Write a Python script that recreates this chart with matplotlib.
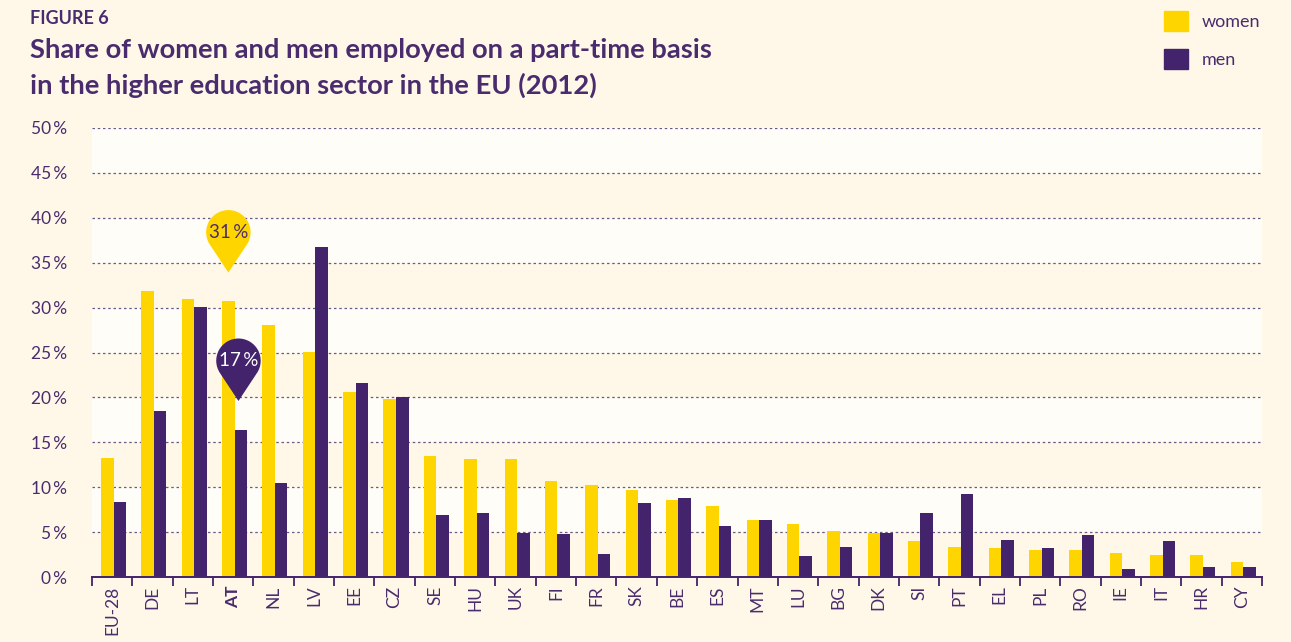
import numpy as np
import matplotlib
matplotlib.use('Agg')
import matplotlib.pyplot as plt
from matplotlib.path import Path
from matplotlib.patches import PathPatch, Patch
from matplotlib.transforms import Affine2D, ScaledTranslation

# data (share of part-time employed, %)
countries = ['EU-28', 'DE', 'LT', 'AT', 'NL', 'LV', 'EE', 'CZ', 'SE', 'HU', 'UK', 'FI', 'FR',
             'SK', 'BE', 'ES', 'MT', 'LU', 'BG', 'DK', 'SI', 'PT', 'EL', 'PL', 'RO', 'IE',
             'IT', 'HR', 'CY']
women = [13.3, 31.8, 31.0, 30.7, 28.1, 25.1, 20.6, 19.8, 13.5, 13.1, 13.1, 10.7, 10.3,
         9.7, 8.6, 7.9, 6.3, 5.9, 5.1, 4.9, 4.0, 3.3, 3.2, 3.0, 3.0, 2.7, 2.5, 2.5, 1.7]
men = [8.4, 18.5, 30.1, 16.4, 10.5, 36.7, 21.6, 20.1, 6.9, 7.1, 4.9, 4.8, 2.6,
       8.2, 8.8, 5.7, 6.4, 2.3, 3.3, 4.9, 7.1, 9.2, 4.1, 3.2, 4.7, 0.9, 4.0, 1.1, 1.1]
highlight = 'AT'
callouts = [('women', 31), ('men', 17)]  # rounded AT values shown in pins
yticks = list(range(0, 55, 5))

YELLOW = '#FFD500'
PURPLE = '#43236B'
TEXT = '#4A2C6E'
BG = '#FFF8E8'
BAND = '#FFFDF7'
FONT = 'Lato'

plt.rcParams['font.family'] = [FONT, 'DejaVu Sans']

W, H = 1291, 642
fig = plt.figure(figsize=(W / 100, H / 100), dpi=100, facecolor=BG)
ax = fig.add_axes([92 / W, 1 - 577 / H, (1262 - 92) / W, (577 - 128) / H])
ax.set_facecolor(BG)

x = np.arange(len(countries))
bw = 0.31
ax.bar(x - 0.12, women, bw, color=YELLOW, zorder=3)
ax.bar(x + 0.19, men, bw, color=PURPLE, zorder=3)

# alternating bands + dotted grid
for lo in yticks[1:-1:2]:
    ax.axhspan(lo, lo + 5, color=BAND, zorder=0, lw=0)
for t in yticks[1:]:
    ax.axhline(t, color='#6B5A86', lw=0.9, ls=(0, (2, 2.2)), zorder=1)

ax.set_xlim(-0.5, len(countries) - 0.5)
ax.set_ylim(0, 50)
for s in ['top', 'right', 'left']:
    ax.spines[s].set_visible(False)
ax.spines['bottom'].set_color(PURPLE)
ax.spines['bottom'].set_linewidth(1.4)
ax.spines['bottom'].set_zorder(4)

ax.set_yticks(yticks)
ax.set_yticklabels([f'{t}\u2009%' for t in yticks])
ax.tick_params(axis='y', length=0, pad=18, labelsize=12.5, labelcolor=TEXT)

ax.set_xticks(x)
ax.set_xticklabels(countries, rotation=90, va='top', ha='center')
ax.tick_params(axis='x', which='major', length=0, pad=6, labelsize=12.5, labelcolor=TEXT)
ax.set_xticks(np.arange(len(countries) + 1) - 0.5, minor=True)
ax.tick_params(axis='x', which='minor', length=6.5, width=1.3, color=PURPLE)
for lab in ax.get_xticklabels():
    if lab.get_text() == highlight:
        lab.set_fontweight('bold')


# teardrop pin path, tip at origin, units in points
def pin_path(r=16.0, h=29.0):
    th = np.degrees(np.arccos(r / h))
    arc = Path.arc(-90 + th, 270 - th)
    verts = arc.vertices * r + np.array([0, h])
    codes = arc.codes.copy()
    codes[0] = Path.LINETO
    verts = np.vstack([[0, 0], verts, [0, 0]])
    codes = np.concatenate([[Path.MOVETO], codes, [Path.CLOSEPOLY]])
    return Path(verts, codes)


i = countries.index(highlight)
pins = {'women': (i - 0.12, women[i], YELLOW, TEXT),
        'men': (i + 0.13, men[i], PURPLE, 'white')}
for key, val in callouts:
    px, top, fc, tc = pins[key]
    tip = top + 3.2
    tr = Affine2D().scale(fig.dpi / 72) + ScaledTranslation(px, tip, ax.transData)
    ax.add_patch(PathPatch(pin_path(), transform=tr, facecolor=fc, edgecolor='none',
                           zorder=6, clip_on=False))
    ax.annotate(f'{val}\u2009%', (px, tip), xytext=(0, 29), textcoords='offset points',
                ha='center', va='center', color=tc, fontsize=13.5, zorder=7)

# titles
fig.text(30 / W, 1 - 24 / H, 'FIGURE 6', fontsize=13, fontweight='bold', color=TEXT,
         ha='left', va='baseline')
fig.text(30 / W, 1 - 58 / H, 'Share of women and men employed on a part-time basis',
         fontsize=19.7, fontweight='bold', color=TEXT, ha='left', va='baseline')
fig.text(30 / W, 1 - 94 / H, 'in the higher education sector in the EU (2012)',
         fontsize=19.7, fontweight='bold', color=TEXT, ha='left', va='baseline')

# legend
fig.legend(handles=[Patch(color=YELLOW), Patch(color=PURPLE)], labels=['women', 'men'],
           loc='upper left', bbox_to_anchor=(1148 / W, 1 + 5 / H), frameon=False,
           handlelength=1.3, handleheight=1.3, handletextpad=0.8, labelspacing=1.0,
           fontsize=13, labelcolor=TEXT)

fig.savefig('out.png', dpi=100, facecolor=BG)
